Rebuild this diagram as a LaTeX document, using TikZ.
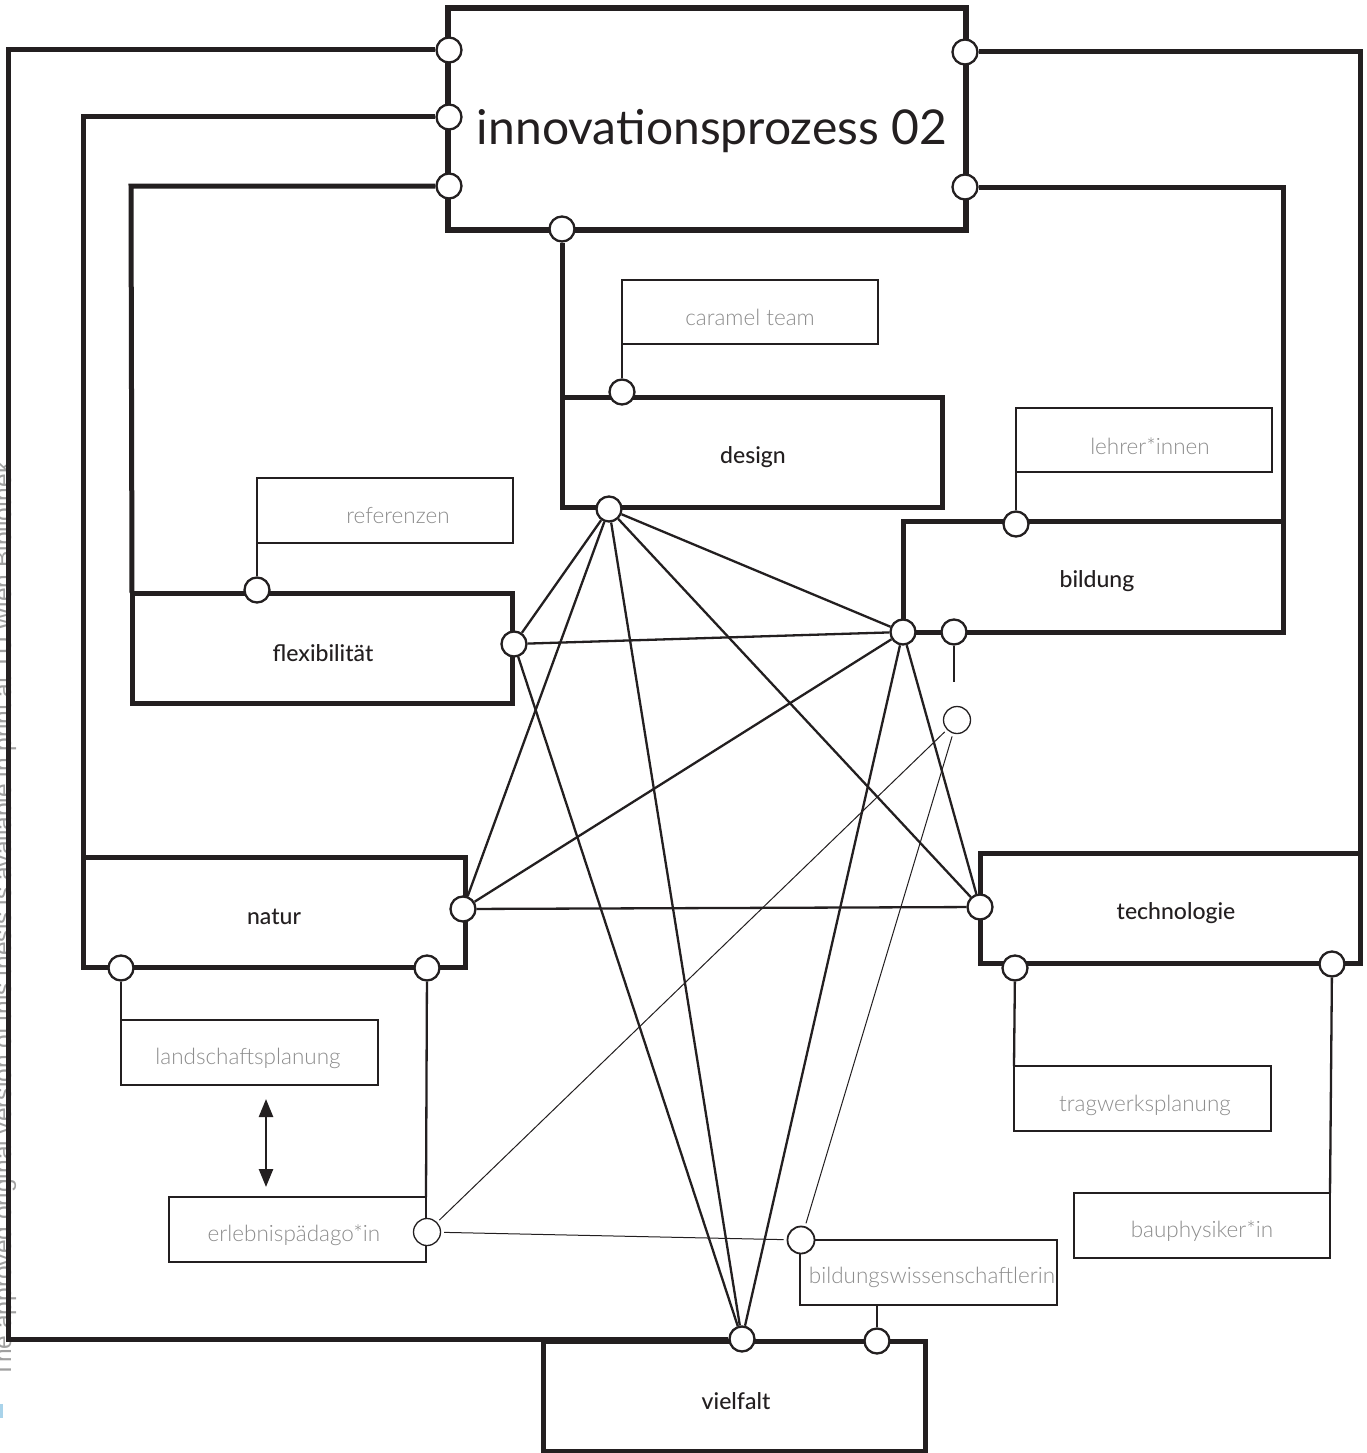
\documentclass[tikz,border=0pt]{standalone}
\usepackage{fontspec}
\setmainfont{Lato}
\newfontfamily\lightfont{Lato Light}
\newfontfamily\mediumfont{Lato Medium}
\newfontfamily\markfont{Liberation Sans}
\usetikzlibrary{arrows.meta}
\definecolor{ink}{HTML}{231F20}
\definecolor{soft}{HTML}{8C8C8C}
\definecolor{markgray}{HTML}{A0A0A0}
\definecolor{logoblue}{HTML}{A9D3EA}
\begin{document}
\begin{tikzpicture}[x=1pt,y=-1pt,
  mainbox/.style={draw=ink, line width=5pt, inner sep=0pt, outer sep=0pt},
  subbox/.style={draw=ink, line width=2.5pt, inner sep=0pt, outer sep=0pt},
  mainlabel/.style={inner sep=0pt, text=ink, font=\mediumfont\fontsize{23}{26}\selectfont},
  sublabel/.style={inner sep=0pt, text=soft, font=\lightfont\fontsize{22.5}{25}\selectfont},
  port/.style={circle, draw=ink, fill=white, line width=2.3pt,
    minimum size=25pt, inner sep=0pt},
  thinport/.style={circle, draw=ink, fill=white, line width=1.3pt,
    minimum size=27pt, inner sep=0pt},
  frame/.style={draw=ink, line width=5pt},
  link/.style={draw=ink, line width=2.3pt},
  thinlink/.style={draw=ink, line width=1pt, shorten <=3pt, shorten >=3pt},
  twohead/.style={draw=ink, line width=2.5pt,
    {Triangle[width=14pt,length=18pt]}-{Triangle[width=14pt,length=18pt]}},
]
\useasboundingbox (0,0) rectangle (1367,1453);
\fill[white] (0,0) rectangle (1367,1453);

% vertical library note along the left margin
\node[rotate=90, anchor=base west, inner sep=0pt, text=markgray,
  font=\markfont\fontsize{24.5}{24.5}\selectfont] (note) at (11,1378)
  {The approved original version of this thesis is available in print at TU Wien Bibliothek.};
\fill[logoblue] (0,1404) rectangle (3,1418);

% main boxes
\node[mainbox, line width=6pt, minimum width=518pt, minimum height=222pt] (top) at (707,119) {};
\node[anchor=base, inner sep=0pt, text=ink, font=\fontsize{48}{50}\selectfont] (title) at (712,145) {innovationsprozess 02};
\node[mainbox, minimum width=380pt, minimum height=110pt] (design) at (752,452) {};
\node[mainbox, minimum width=380pt, minimum height=111pt] (bild) at (1093,576.5) {};
\node[mainbox, minimum width=380pt, minimum height=110pt] (flex) at (322,648) {};
\node[mainbox, minimum width=382pt, minimum height=110pt] (natur) at (274,912) {};
\node[mainbox, minimum width=380pt, minimum height=110pt] (tech) at (1170,908) {};
\node[mainbox, minimum width=382pt, minimum height=110pt] (viel) at (734,1396) {};
\node[mainlabel] (design-t) at (753,457) {design};
\node[mainlabel] (bild-t) at (1097,581) {bildung};
\node[mainlabel] (flex-t) at (323,653) {flexibilität};
\node[mainlabel] (natur-t) at (274,917) {natur};
\node[mainlabel] (tech-t) at (1176,913) {technologie};
\node[mainlabel] (viel-t) at (736,1401) {vielfalt};

% side boxes
\node[subbox, minimum width=256pt, minimum height=64pt] (caramel) at (750,312) {};
\node[subbox, minimum width=256pt, minimum height=64pt] (lehrer) at (1144,440) {};
\node[subbox, minimum width=256pt, minimum height=65pt] (refz) at (385,510.5) {};
\node[subbox, minimum width=257pt, minimum height=65pt] (land) at (249.5,1052.5) {};
\node[subbox, minimum width=257pt, minimum height=65pt] (erleb) at (297.5,1229.5) {};
\node[subbox, minimum width=257pt, minimum height=65pt] (trag) at (1142.5,1098.5) {};
\node[subbox, minimum width=256pt, minimum height=65pt] (bauph) at (1202,1225.5) {};
\node[subbox, minimum width=257pt, minimum height=65pt] (bwiss) at (928.5,1272.5) {};
\node[sublabel] (caramel-t) at (750,317) {caramel team};
\node[sublabel] (lehrer-t) at (1150,446) {lehrer*innen};
\node[sublabel] (refz-t) at (398,516) {referenzen};
\node[sublabel] (land-t) at (248,1058) {landschaftsplanung};
\node[sublabel] (erleb-t) at (294,1235) {erlebnispädago*in};
\node[sublabel] (trag-t) at (1145,1105) {tragwerksplanung};
\node[sublabel] (bauph-t) at (1202,1231) {bauphysiker*in};
\node[sublabel] (bwiss-t) at (932,1277) {bildungswissenschaftlerin};

% ports
\node[port] (tl1) at (449,50) {};
\node[port] (tl2) at (449,117) {};
\node[port] (tl3) at (449,186) {};
\node[port] (tr1) at (965,52) {};
\node[port] (tr2) at (965,187) {};
\node[port] (tb) at (562,229) {};
\node[port] (dtop) at (622,392) {};
\node[port] (dbot) at (609,509) {};
\node[port] (btop) at (1016,524) {};
\node[port] (bbl) at (903,632) {};
\node[port] (bbr) at (954,632) {};
\node[port] (ftop) at (257,590) {};
\node[port] (fr) at (514,644) {};
\node[port] (nr) at (463,909) {};
\node[port] (nbl) at (121,968) {};
\node[port] (nbr) at (427,968) {};
\node[port] (tlft) at (980,907) {};
\node[port] (tbl) at (1015,968) {};
\node[port] (tbr) at (1332,964) {};
\node[port] (vl) at (742,1339) {};
\node[port] (vr) at (877,1341) {};
\node[thinport] (tc) at (957,720) {};
\node[thinport] (ec) at (427,1232) {};
\node[thinport, line width=1.8pt] (wc) at (801,1240) {};
\coordinate (stub) at (954,682);
\coordinate (arrtop) at (266,1099);
\coordinate (arrbot) at (266,1187);

% outer frame lines from the title box
\draw[frame] (tl1) -- (8,50) -- (8,1339) -- (vl);
\draw[frame] (tl2) -- (83,117) -- (natur.north west);
\draw[frame] (tl3) -- (131,186) -- (flex.north west);
\draw[frame] (tr1) -- (1360,52) -- (tech.north east);
\draw[frame] (tr2) -- (1283,187) -- (bild.south east);
\draw[frame] (tb) -- (design.north west);

% side box connectors
\draw[link] (dtop) -- (caramel.south west);
\draw[link] (btop) -- (lehrer.south west);
\draw[link] (ftop) -- (refz.south west);
\draw[link] (nbl) -- (land.north west);
\draw[link] (nbr) -- (erleb.north east);
\draw[link] (tbl) -- (trag.north west);
\draw[link] (tbr) -- (bauph.north east);
\draw[link] (vr) -- (vr |- bwiss.south);
\draw[link] (bbr) -- (stub);

% network between the topic boxes
\draw[link] (dbot) -- (fr);
\draw[link] (dbot) -- (bbl);
\draw[link] (dbot) -- (nr);
\draw[link] (dbot) -- (tlft);
\draw[link] (dbot) -- (vl);
\draw[link] (fr) -- (bbl);
\draw[link] (fr) -- (vl);
\draw[link] (bbl) -- (nr);
\draw[link] (bbl) -- (tlft);
\draw[link] (bbl) -- (vl);
\draw[link] (nr) -- (tlft);

% thin links between the people
\draw[thinlink] (ec) -- (tc);
\draw[thinlink] (ec) -- (wc);
\draw[thinlink] (wc) -- (tc);

\draw[twohead] (arrtop) -- (arrbot);
\end{tikzpicture}
\end{document}
